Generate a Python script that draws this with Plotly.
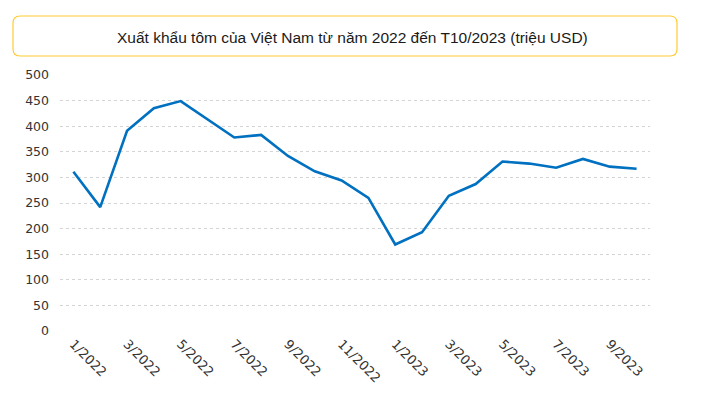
import plotly.graph_objects as go

months = ["1/2022", "2/2022", "3/2022", "4/2022", "5/2022", "6/2022", "7/2022", "8/2022",
          "9/2022", "10/2022", "11/2022", "12/2022", "1/2023", "2/2023", "3/2023", "4/2023",
          "5/2023", "6/2023", "7/2023", "8/2023", "9/2023", "10/2023"]
values = [311, 242, 391, 435, 449, 413, 378, 383, 342, 312, 294, 260, 169, 193, 264, 287,
          331, 327, 319, 336, 321, 317]
tick_labels = months[::2]
y_ticks = [0, 50, 100, 150, 200, 250, 300, 350, 400, 450, 500]
title_text = "Xuất khẩu tôm của Việt Nam từ năm 2022 đến T10/2023 (triệu USD)"

OFF = 8  # page body margin
W, H = 709 - OFF, 398 - OFF
L, R, T, B = 60, 650, 75, 331  # plot area in page pixels

def px(x):
    return (x - L) / (R - L)

def py(y):
    return (B - y) / (B - T)

fig = go.Figure()
fig.add_trace(go.Scatter(x=months, y=values, mode="lines",
                         line=dict(color="#0070C0", width=2.6), hoverinfo="x+y"))

# rounded title box
x0, x1, y0, y1 = px(13), px(677), py(56), py(16)
rx, ry = 7 / (R - L), 7 / (B - T)
path = (f"M {x0+rx},{y0} L {x1-rx},{y0} Q {x1},{y0} {x1},{y0+ry} "
        f"L {x1},{y1-ry} Q {x1},{y1} {x1-rx},{y1} L {x0+rx},{y1} "
        f"Q {x0},{y1} {x0},{y1-ry} L {x0},{y0+ry} Q {x0},{y0} {x0+rx},{y0} Z")
fig.add_shape(type="path", path=path, xref="paper", yref="paper",
              line=dict(color="#FFCC33", width=1.2), fillcolor="rgba(0,0,0,0)")

fig.add_annotation(text=title_text, xref="paper", yref="paper", x=px(352), y=py(37),
                   showarrow=False, xanchor="center", yanchor="middle",
                   font=dict(family="Liberation Sans Narrow, Arial Narrow, sans-serif",
                             size=15.5, color="#1a1a1a"))

fig.update_layout(
    width=W, height=H,
    margin=dict(l=L - OFF, r=(OFF + W) - R, t=T - OFF, b=(OFF + H) - B),
    paper_bgcolor="white", plot_bgcolor="white",
    showlegend=False,
    xaxis=dict(type="category", tickmode="array", tickvals=tick_labels, ticktext=tick_labels,
               tickangle=45, showgrid=False, showline=False, zeroline=False,
               tickfont=dict(family="DejaVu Sans", size=13, color="#333333"),
               ticks="", ticklabelstandoff=2, range=[-0.5, len(months) - 0.5]),
    yaxis=dict(range=[0, 500], tickmode="array", tickvals=y_ticks,
               showgrid=True, gridcolor="#d4d4d4", gridwidth=1, griddash="dot",
               zeroline=False, showline=False, ticks="", ticklabelstandoff=10,
               tickfont=dict(family="DejaVu Sans", size=12.5, color="#333333")),
)

fig.write_html("out.html")
